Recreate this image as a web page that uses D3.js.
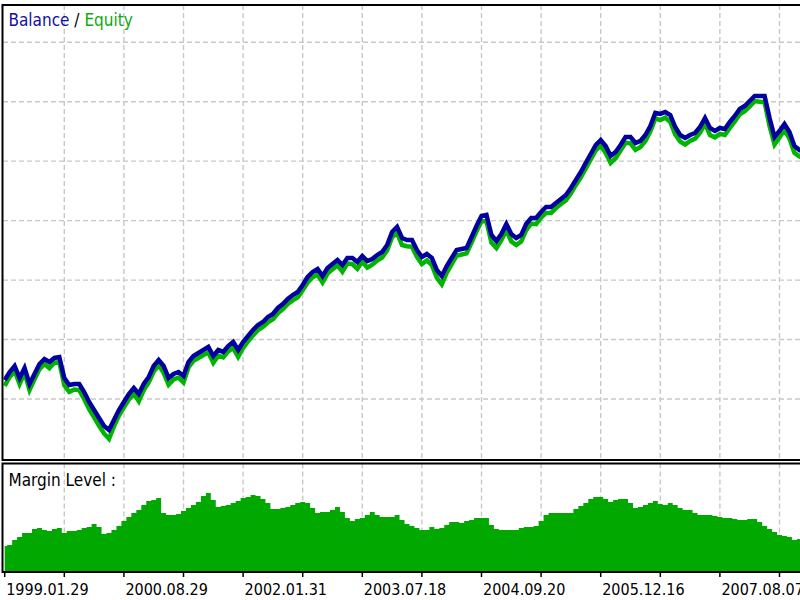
<html>
  <head>
    <script src="https://d3js.org/d3.v7.min.js"></script>
  </head>
  <style type="text/css">
    body {
      margin: 0;
      background: #fff;
    }
    svg {
      font-family: "DejaVu Sans Condensed", "DejaVu Sans", sans-serif;
      font-stretch: condensed;
    }
    .grid line {
      stroke: #c8c8c8;
      stroke-width: 1.4;
      stroke-dasharray: 5,3;
    }
    .frame {
      stroke: #000;
      stroke-width: 2;
      fill: none;
    }
    .label {
      font-size: 16px;
    }
    .title {
      font-size: 17px;
    }
  </style>
  <body>
    <div id="chart"></div>
  </body>
  <script type="text/javascript">
    /* Data: one sample every 1/12 of a grid step */
    var balance = [
      10320, 10454, 10555, 10353, 10521, 10252, 10420, 10589, 10673, 10622, 10690, 10706,
      10353, 10235, 10252, 10252, 10118, 9950, 9815, 9680, 9546, 9479, 9647, 9815,
      9950, 10084, 10185, 10084, 10252, 10370, 10555, 10656, 10555, 10353, 10420, 10454,
      10387, 10622, 10723, 10774, 10824, 10875, 10723, 10824, 10791, 10891, 10959, 10824,
      10959, 11060, 11161, 11245, 11295, 11379, 11430, 11531, 11598, 11682, 11749, 11800,
      11917, 12052, 12136, 12187, 12069, 12203, 12271, 12338, 12254, 12372, 12372, 12304,
      12405, 12321, 12355, 12422, 12473, 12590, 12809, 12893, 12708, 12674, 12674, 12506,
      12388, 12439, 12372, 12170, 12069, 12237, 12372, 12506, 12523, 12540, 12725, 12910,
      13078, 13095, 12758, 12658, 12775, 12944, 12775, 12708, 12758, 12944, 13044, 13044,
      13145, 13229, 13229, 13297, 13364, 13431, 13549, 13684, 13818, 13970, 14121, 14272,
      14356, 14255, 14087, 14155, 14272, 14407, 14407, 14306, 14340, 14440, 14592, 14811,
      14794, 14827, 14777, 14575, 14440, 14390, 14440, 14474, 14575, 14726, 14558, 14508,
      14558, 14541, 14659, 14760, 14878, 14928, 15012, 15096, 15096, 15096, 14726, 14407,
      14508, 14626, 14491, 14255, 14188, 14155
    ];

    var equity = [
      10220, 10370, 10470, 10250, 10440, 10150, 10330, 10500, 10590, 10520, 10610, 10620,
      10230, 10120, 10160, 10150, 10000, 9830, 9690, 9550, 9420, 9330, 9540, 9720,
      9860, 9990, 10090, 9960, 10150, 10280, 10460, 10570, 10440, 10240, 10330, 10360,
      10280, 10530, 10640, 10690, 10740, 10780, 10610, 10730, 10700, 10800, 10860, 10710,
      10860, 10970, 11070, 11160, 11210, 11290, 11340, 11440, 11510, 11600, 11660, 11710,
      11830, 11960, 12050, 12090, 11960, 12110, 12180, 12250, 12140, 12280, 12270, 12190,
      12310, 12210, 12260, 12330, 12380, 12500, 12720, 12790, 12590, 12570, 12560, 12390,
      12270, 12330, 12250, 12040, 11930, 12120, 12270, 12410, 12430, 12450, 12630, 12820,
      12990, 12990, 12630, 12540, 12670, 12840, 12650, 12590, 12650, 12840, 12950, 12940,
      13050, 13130, 13130, 13210, 13280, 13340, 13460, 13600, 13730, 13880, 14030, 14180,
      14260, 14140, 13970, 14050, 14180, 14310, 14300, 14190, 14240, 14340, 14500, 14720,
      14690, 14730, 14660, 14450, 14330, 14280, 14340, 14380, 14480, 14630, 14440, 14400,
      14460, 14440, 14560, 14670, 14790, 14840, 14920, 15010, 15000, 14990, 14590, 14280,
      14400, 14530, 14380, 14140, 14080, 14050
    ];

    var marginLevel = [
      260, 270, 320, 350, 390, 390, 430, 440, 420, 410, 430, 440,
      390, 410, 410, 420, 440, 450, 480, 450, 380, 390, 420, 460,
      510, 550, 590, 620, 670, 710, 720, 740, 590, 570, 570, 580,
      610, 640, 670, 700, 760, 790, 720, 650, 660, 670, 690, 710,
      740, 750, 770, 760, 730, 690, 630, 630, 640, 650, 670, 690,
      700, 690, 640, 590, 600, 600, 620, 650, 600, 540, 510, 530,
      540, 570, 600, 570, 550, 550, 550, 570, 520, 480, 460, 440,
      420, 420, 450, 430, 440, 470, 500, 500, 490, 510, 520, 540,
      540, 540, 470, 430, 420, 420, 420, 420, 440, 450, 450, 460,
      510, 570, 590, 590, 590, 590, 590, 630, 660, 690, 730, 750,
      750, 730, 700, 720, 730, 730, 690, 640, 650, 670, 690, 710,
      680, 670, 690, 670, 640, 620, 620, 590, 570, 570, 570, 560,
      550, 540, 540, 530, 520, 520, 530, 530, 500, 460, 430, 400,
      370, 360, 350, 320, 330, 330
    ];

    var dateLabels = ["1999.01.29", "2000.08.29", "2002.01.31", "2003.07.18",
                      "2004.09.20", "2005.12.16", "2007.08.07"];

    var width = 800;
    var height = 600;
    var stepsPerGrid = 12;

    var mainTop = 5, mainBottom = 460;
    var subTop = 463.5, subBottom = 572;

    /* Scales */
    var xScale = d3.scaleLinear()
      .domain([0, 13])
      .range([4.7, 4.7 + 13 * 59.6]);

    var yScale = d3.scaleLinear()
      .domain([9000, 16620])
      .range([458.45, 5.4]);

    var mScale = d3.scaleLinear()
      .domain([0, 1090])
      .range([subBottom, subBottom - 109]);

    var svg = d3.select("#chart").append("svg")
      .attr("width", width)
      .attr("height", height);

    svg.append("clipPath").attr("id", "clipMain")
      .append("rect")
      .attr("x", 3.5).attr("y", mainTop + 1)
      .attr("width", width).attr("height", mainBottom - mainTop - 2);

    svg.append("clipPath").attr("id", "clipSub")
      .append("rect")
      .attr("x", 3.5).attr("y", subTop + 1)
      .attr("width", width).attr("height", subBottom - subTop - 1);

    /* Grid */
    var xTicks = d3.range(1, 14);
    var grid = svg.append("g").attr("class", "grid");

    grid.selectAll(".vmain")
      .data(xTicks).enter()
      .append("line")
      .attr("x1", d => xScale(d)).attr("x2", d => xScale(d))
      .attr("y1", mainTop).attr("y2", mainBottom);

    grid.selectAll(".vsub")
      .data(xTicks).enter()
      .append("line")
      .attr("x1", d => xScale(d)).attr("x2", d => xScale(d))
      .attr("y1", subTop).attr("y2", subBottom);

    grid.selectAll(".hmain")
      .data(d3.range(10000, 16001, 1000)).enter()
      .append("line")
      .attr("x1", 3).attr("x2", width)
      .attr("y1", d => yScale(d)).attr("y2", d => yScale(d));

    /* Margin level area */
    var area = d3.area()
      .x((d, i) => xScale(i / stepsPerGrid))
      .y0(subBottom)
      .y1(d => mScale(d))
      .curve(d3.curveStep);

    svg.append("path")
      .datum(marginLevel)
      .attr("clip-path", "url(#clipSub)")
      .attr("d", area)
      .style("fill", "#00a800");

    /* Balance / equity lines */
    var line = d3.line()
      .x((d, i) => xScale(i / stepsPerGrid))
      .y(d => yScale(d));

    var lines = svg.append("g").attr("clip-path", "url(#clipMain)");

    lines.append("path")
      .datum(equity)
      .attr("d", line)
      .style("fill", "none")
      .style("stroke", "#00b400")
      .style("stroke-width", 4.5)
      .style("stroke-linejoin", "miter");

    lines.append("path")
      .datum(balance)
      .attr("d", line)
      .style("fill", "none")
      .style("stroke", "#0000a0")
      .style("stroke-width", 4.5)
      .style("stroke-linejoin", "miter");

    /* Frames */
    svg.append("path").attr("class", "frame")
      .attr("d", `M${width + 2},${mainTop} H2.5 V${mainBottom} H${width + 2}`);
    svg.append("path").attr("class", "frame")
      .attr("d", `M${width + 2},${subTop} H2.5 V${subBottom} H${width + 2}`);

    /* Bottom axis ticks and labels */
    svg.selectAll(".tick")
      .data(d3.range(0, 14)).enter()
      .append("line")
      .attr("x1", d => xScale(d)).attr("x2", d => xScale(d))
      .attr("y1", subBottom).attr("y2", subBottom + 5)
      .style("stroke", "#000")
      .style("stroke-width", 1.5);

    svg.selectAll(".date")
      .data(dateLabels).enter()
      .append("text")
      .attr("class", "label")
      .attr("x", (d, i) => xScale(i * 2) + 1.5)
      .attr("y", 595)
      .style("fill", "#000")
      .text(d => d);

    /* Titles */
    var title = svg.append("text")
      .attr("class", "title")
      .attr("x", 8.5)
      .attr("y", 26);
    title.append("tspan").style("fill", "#1010a0").text("Balance");
    title.append("tspan").style("fill", "#000").text(" / ");
    title.append("tspan").style("fill", "#10a810").text("Equity");

    svg.append("text")
      .attr("class", "title")
      .attr("x", 8.5)
      .attr("y", 486)
      .style("fill", "#000")
      .text("Margin Level :");
  </script>
</html>
